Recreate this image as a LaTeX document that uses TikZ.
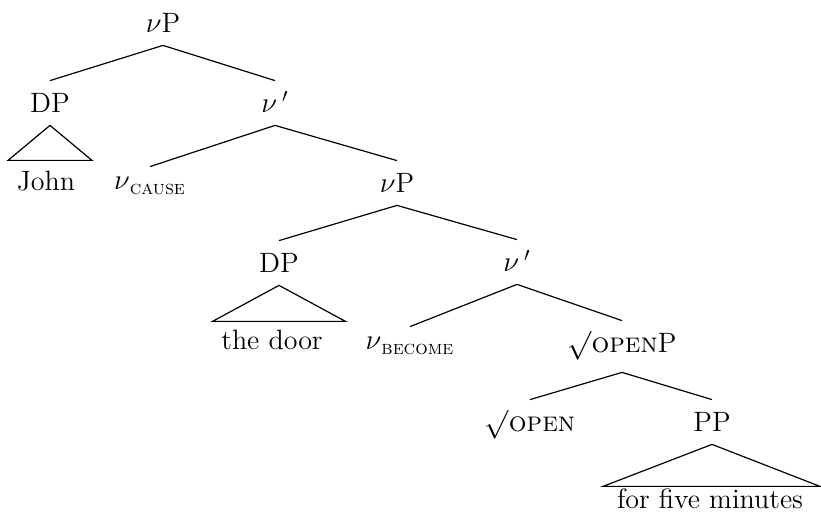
\documentclass[tikz,border=0pt]{standalone}
\usepackage{fontspec}
\begin{document}
\begin{tikzpicture}[x=0.5pt,y=-0.5pt,
  lab/.style={inner sep=0pt,anchor=base,text height=16pt,text depth=6pt,font=\fontsize{14}{16}\selectfont},
  low/.style={text height=11.5pt},
  edge/.style={line width=0.6pt},
  tri/.style={line width=0.6pt}]
\useasboundingbox (0,0) rectangle (821,513);
% nodes
\node[lab] (vP1) at (163,33) {$\nu$P};
\node[lab] (DP1) at (50,113) {DP};
\node[lab] (vb1) at (275,113) {$\nu\,'$};
\node[lab] (john) at (46,191) {John};
\node[lab,low] (vc) at (150,190) {$\nu$\textsubscript{\textsc{cause}}};
\node[lab] (vP2) at (397,193) {$\nu$P};
\node[lab] (DP2) at (279,273) {DP};
\node[lab] (vb2) at (517,272) {$\nu\,'$};
\node[lab] (door) at (272,350) {the door};
\node[lab,low] (vbec) at (410,350) {$\nu$\textsubscript{\textsc{become}}};
\node[lab,text depth=9.5pt] (rootP) at (622,353) {$\surd$\textsc{open}P};
\node[lab] (root) at (530,432) {$\surd$\textsc{open}};
\node[lab] (PP) at (712,432) {PP};
\node[lab,text depth=0pt] (ffm) at (710,509) {for five minutes};
% branches
\draw[edge] (DP1.north) -- (vP1.south) -- (vb1.north);
\draw[edge] (vc.north) -- (vb1.south) -- (vP2.north);
\draw[edge] (DP2.north) -- (vP2.south) -- (vb2.north);
\draw[edge] (vbec.north) -- (vb2.south) -- (rootP.north);
\draw[edge] (root.north) -- (rootP.south) -- (PP.north);
% triangles
\draw[tri] (DP1.south) -- ++(-42,35) -- ++(84,0) -- cycle;
\draw[tri] (DP2.south) -- ++(-66.5,36) -- ++(133,0) -- cycle;
\draw[tri] (PP.south) -- ++(-109,42) -- ++(217,0) -- cycle;
\end{tikzpicture}
\end{document}
